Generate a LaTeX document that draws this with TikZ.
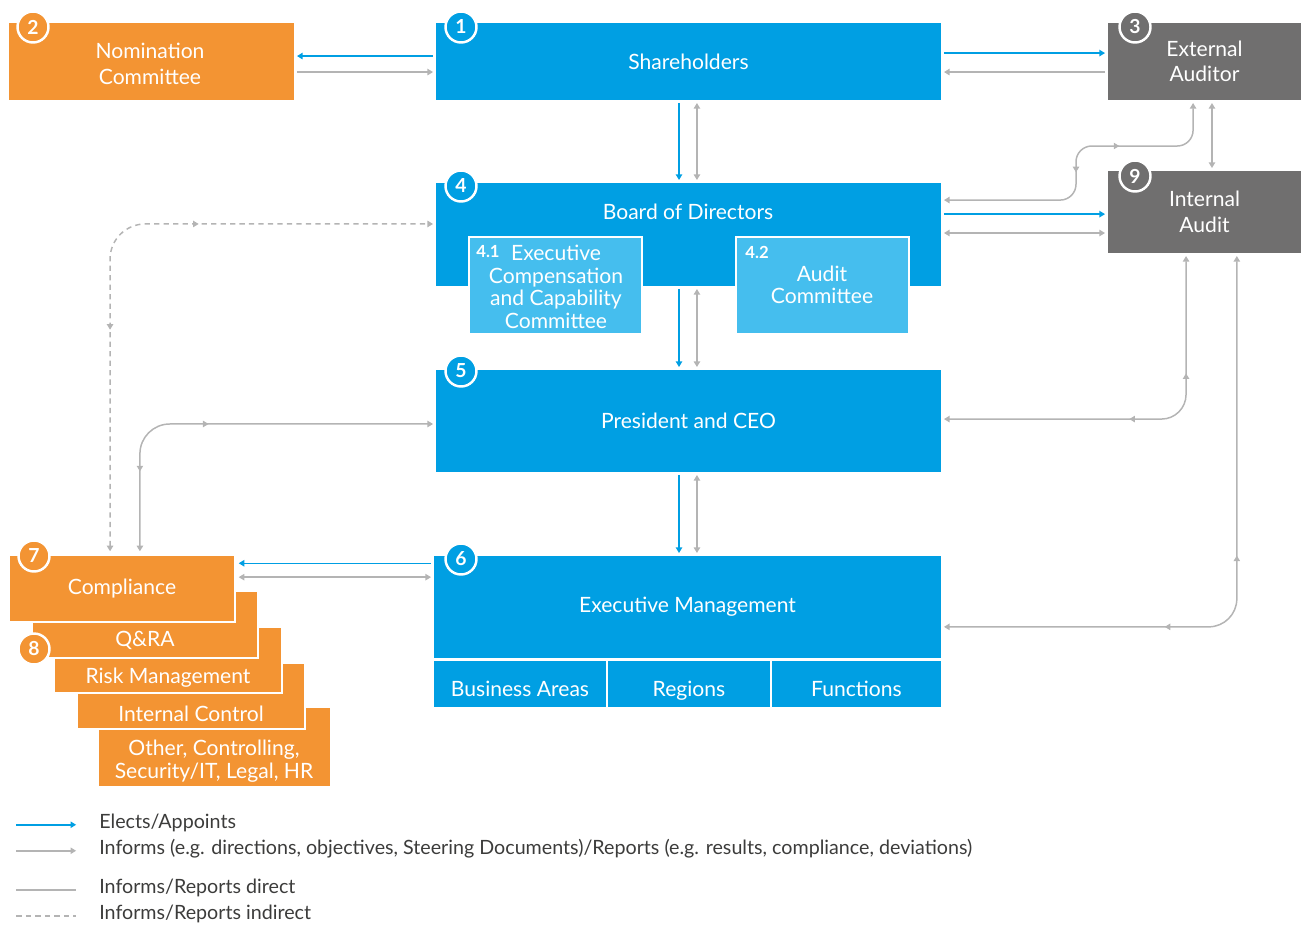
\documentclass[tikz,border=0pt]{standalone}
\usepackage{fontspec}
\setmainfont{Lato}
\usetikzlibrary{arrows.meta,decorations.markings,positioning}

\definecolor{govblue}{HTML}{009FE3}
\definecolor{govlight}{HTML}{45BEEE}
\definecolor{govorange}{HTML}{F39433}
\definecolor{govgray}{HTML}{706F6F}
\definecolor{linkgray}{HTML}{B4B4B4}
\definecolor{legtext}{HTML}{3C3C3B}

\newcommand{\boxfont}{\fontsize{12}{14.5}\selectfont}
\newcommand{\tightfont}{\fontsize{12}{12.8}\selectfont}
\newcommand{\legfont}{\fontsize{11.2}{13}\selectfont}
\newcommand{\badgefont}{\fontsize{11}{12}\selectfont\bfseries}

\tikzset{
  >={Triangle[width=3.6pt,length=3.2pt]},
  box/.style={rectangle, inner sep=0pt, text=white, align=center, font=\boxfont},
  subbox/.style={box, fill=govlight, draw=white, line width=1.2pt, minimum width=3.46cm, minimum height=1.94cm},
  stack/.style={box, fill=govorange, draw=white, line width=1.2pt},
  numlbl/.style={inner sep=0pt, text=white, font=\fontsize{9.5}{10}\selectfont\bfseries},
  badge/.style={circle, draw=white, line width=1.4pt, minimum size=0.62cm, inner sep=0pt, text=white, font=\badgefont},
  elect/.style={->, draw=govblue, line width=0.85pt, shorten >=1.5pt, shorten <=1.5pt},
  inform/.style={draw=linkgray, line width=0.85pt, shorten >=1.5pt, shorten <=1.5pt},
  indirect/.style={inform, dash pattern=on 3pt off 2.4pt},
  midfwd/.style={postaction={decorate,decoration={markings,mark=at position #1 with {\arrow{>}}}}},
  midrev/.style={postaction={decorate,decoration={markings,mark=at position #1 with {\arrowreversed{>}}}}},
  legtxt/.style={anchor=west, inner sep=0pt, text=legtext, font=\legfont},
}

\begin{document}
\begin{tikzpicture}[x=0.02cm,y=-0.02cm]
\useasboundingbox (0,0) rectangle (1301,927);

% main boxes
\node[box, fill=govorange, minimum width=5.7cm, minimum height=1.54cm] (nom) at (151.5,61.5) {};
\node[box] (nomtxt) at (150,64) {Nomination\\Committee};
\node[box, fill=govblue, minimum width=10.1cm, minimum height=1.54cm] (share) at (688.5,61.5) {Shareholders};
\node[box, fill=govgray, minimum width=3.86cm, minimum height=1.54cm] (ext) at (1204.5,61.5) {External\\Auditor};
\node[box, fill=govgray, minimum width=3.86cm, minimum height=1.64cm] (ia) at (1204.5,212) {Internal\\Audit};

\node[box, fill=govblue, minimum width=10.1cm, minimum height=2.06cm] (board) at (688.5,234.5) {};
\node[box] (boardtxt) at (688,212) {Board of Directors};
\node[subbox] (exc) at (555.5,285.5) {};
\node[box, font=\tightfont] (exctxt) at (556,287) {Executive\\Compensation\\and Capability\\Committee};
\node[numlbl] (exclbl) at (488,252) {4.1};
\node[subbox] (aud) at (822.5,285.5) {};
\node[box, font=\tightfont] (audtxt) at (822,285) {Audit\\Committee};
\node[numlbl] (audlbl) at (757,252) {4.2};

\node[box, fill=govblue, minimum width=10.1cm, minimum height=2.04cm] (pres) at (688.5,421) {President and CEO};
\node[box, fill=govblue, minimum width=10.14cm, minimum height=2.04cm] (exec) at (687.5,607) {Executive Management};
\foreach \nm/\x/\w/\t in {ba/520/3.44/Business Areas, reg/689/3.24/Regions, fun/856.5/3.38/Functions}{
  \node[box, fill=govblue, minimum width=\w cm, minimum height=0.92cm] (\nm) at (\x,684) {};
  \node[box, text height=1.6ex, text depth=0.5ex] (\nm txt) at (\x,692) {\t};
}

% control functions, back to front
\foreach \nm/\x/\y/\w/\h in {other/214.5/747/4.66/1.6, ictl/191/696/4.56/1.32, risk/168/660/4.56/1.32, qra/145/624.5/4.52/1.34}
  \node[stack, minimum width=\w cm, minimum height=\h cm] (\nm) at (\x,\y) {};
\node[stack, minimum width=4.52cm, minimum height=1.34cm] (comp) at (122,588.5) {Compliance};
\node[box] (qratxt) at (145,640) {Q\&RA};
\node[box] (risktxt) at (168,678) {Risk Management};
\node[box] (ictltxt) at (191,714) {Internal Control};
\node[box, font=\tightfont] (othertxt) at (214,761) {Other, Controlling,\\Security/IT, Legal, HR};

% badges
\foreach \n/\x/\y/\c in {1/461/27/govblue, 2/33/27/govorange, 3/1135/27/govgray, 4/461/186/govblue,
  9/1135/176/govgray, 5/461/371/govblue, 6/461/559/govblue, 7/34/556/govorange, 8/34/649/govorange}
  \node[badge, fill=\c] (b\n) at (\x,\y) {\n};

% top row
\draw[elect] ([yshift=3.1pt]share.west) coordinate (p1) -- (p1 -| nom.east);
\draw[inform,->] ([yshift=-6pt]nom.east) coordinate (p2) -- (p2 -| share.west);
\draw[elect] ([yshift=4.8pt]share.east) coordinate (p3) -- (p3 -| ext.west);
\draw[inform,->] ([yshift=-6pt]ext.west) coordinate (p4) -- (p4 -| share.east);

% down the middle
\draw[elect] ([xshift=-5.4pt]share.south) coordinate (p5) -- (p5 |- board.north);
\draw[inform,<->] ([xshift=4.8pt]share.south) coordinate (p6) -- (p6 |- board.north);
\draw[elect] ([xshift=-5.4pt]board.south) coordinate (p7) -- (p7 |- pres.north);
\draw[inform,<->] ([xshift=4.8pt]board.south) coordinate (p8) -- (p8 |- pres.north);
\draw[elect] ([xshift=-5.4pt]pres.south) coordinate (p9) -- (p9 |- exec.north);
\draw[inform,<->] ([xshift=4.8pt]pres.south) coordinate (p10) -- (p10 |- exec.north);

% auditors
\draw[elect] ([yshift=11.6pt]board.east) coordinate (p11) -- (p11 -| ia.west);
\draw[inform,<->] ([yshift=0.85pt]board.east) coordinate (p12) -- (p12 -| ia.west);
\draw[inform,<->] ([xshift=4.25pt]ext.south) coordinate (p13) -- (p13 |- ia.north);
\coordinate (kink) at (1076,146);
\draw[inform,<->, rounded corners=9pt, midrev=0.47, midfwd=0.66]
  ([yshift=19.6pt]board.east) -| (kink) -| ([xshift=-6.5pt]ext.south);
\draw[inform,<->, rounded corners=14pt, midrev=0.47, midfwd=0.7]
  ([yshift=1.1pt]pres.east) -| ([xshift=-10.5pt]ia.south);
\draw[inform,<->, rounded corners=16pt, midrev=0.34, midfwd=0.54]
  ([yshift=-11.3pt]exec.east) -| ([xshift=18.4pt]ia.south);

% compliance
\draw[elect] ([yshift=24.9pt]exec.west) coordinate (p14) -- (p14 -| comp.east);
\draw[inform,<->] ([yshift=17pt]exec.west) coordinate (p15) -- (p15 -| comp.east);
\draw[indirect,<->, rounded corners=20pt, midrev=0.35, midfwd=0.63]
  ([xshift=-6.8pt]comp.north) |- ([yshift=6pt]board.west);
\draw[inform,<->, rounded corners=17pt, midrev=0.2, midfwd=0.45]
  ([xshift=10.2pt]comp.north) |- ([yshift=-1.7pt]pres.west);

% legend
\node[legtxt] (leg1) at (99,823) {Elects/Appoints};
\node[legtxt] (leg2) at (99,849) {Informs (e.g. directions, objectives, Steering Documents)/Reports (e.g. results, compliance, deviations)};
\node[legtxt] (leg3) at (99,888) {Informs/Reports direct};
\node[legtxt] (leg4) at (99,914) {Informs/Reports indirect};
\draw[elect, shorten >=0pt, shorten <=0pt] ([xshift=-47pt,yshift=-1pt]leg1.west) -- ([xshift=-13pt,yshift=-1pt]leg1.west);
\draw[inform,->, shorten >=0pt, shorten <=0pt] ([xshift=-47pt,yshift=-1pt]leg2.west) -- ([xshift=-13pt,yshift=-1pt]leg2.west);
\draw[inform, shorten >=0pt, shorten <=0pt] ([xshift=-47pt,yshift=-1pt]leg3.west) -- ([xshift=-13pt,yshift=-1pt]leg3.west);
\draw[indirect, shorten >=0pt, shorten <=0pt] ([xshift=-47pt,yshift=-1pt]leg4.west) -- ([xshift=-13pt,yshift=-1pt]leg4.west);
\end{tikzpicture}
\end{document}
